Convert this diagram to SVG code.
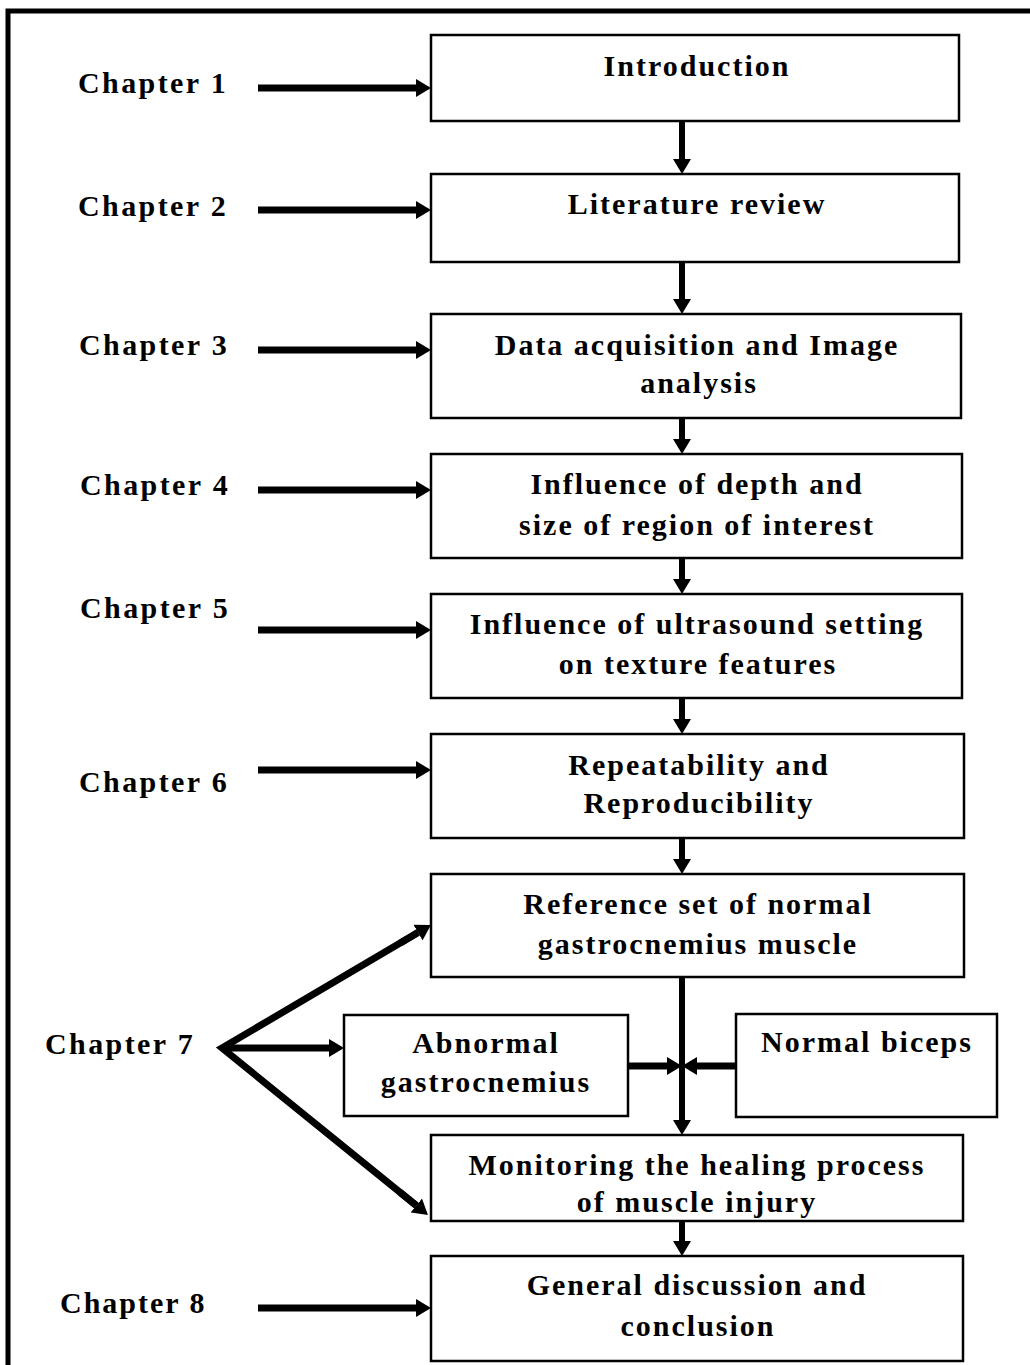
<svg xmlns="http://www.w3.org/2000/svg" width="1030" height="1365" viewBox="0 0 1030 1365">
<defs>
<style>
.box{fill:#fff;stroke:#000;stroke-width:2.5}
.t{font-family:"Liberation Serif","Times New Roman",serif;font-weight:bold;font-size:30px;letter-spacing:2px;fill:#000}
.c{text-anchor:middle}
.ln{stroke:#000;stroke-width:7;fill:none}
.v{stroke:#000;stroke-width:6;fill:none}
</style>
<marker id="ah" viewBox="0 0 15 18" refX="0" refY="9" markerWidth="15" markerHeight="18" markerUnits="userSpaceOnUse" orient="auto"><path d="M0,0 L15,9 L0,18 Z" fill="#000"/></marker>
</defs>
<rect x="0" y="0" width="1030" height="1365" fill="#fff"/>
<path d="M8,1365 V11 H1030" fill="none" stroke="#000" stroke-width="5"/>

<g id="labels">
<text class="t" x="78" y="93" style="letter-spacing:2.4px">Chapter 1</text>
<text class="t" x="78" y="216" style="letter-spacing:2.4px">Chapter 2</text>
<text class="t" x="79" y="355" style="letter-spacing:2.4px">Chapter 3</text>
<text class="t" x="80" y="495" style="letter-spacing:2.4px">Chapter 4</text>
<text class="t" x="80" y="618" style="letter-spacing:2.4px">Chapter 5</text>
<text class="t" x="79" y="792" style="letter-spacing:2.4px">Chapter 6</text>
<text class="t" x="45" y="1054" style="letter-spacing:2.4px">Chapter 7</text>
<text class="t" x="60" y="1313">Chapter 8</text>
</g>

<g id="n1"><rect class="box" x="431" y="35" width="528" height="86"/><text class="t c" x="697" y="76">Introduction</text></g>
<g id="n2"><rect class="box" x="431" y="174" width="528" height="88"/><text class="t c" x="697" y="214">Literature review</text></g>
<g id="n3"><rect class="box" x="431" y="314" width="530" height="104"/><text class="t c" x="697" y="355">Data acquisition and Image</text><text class="t c" x="699" y="393">analysis</text></g>
<g id="n4"><rect class="box" x="431" y="454" width="531" height="104"/><text class="t c" x="697" y="494">Influence of depth and</text><text class="t c" x="697" y="535">size of region of interest</text></g>
<g id="n5"><rect class="box" x="431" y="594" width="531" height="104"/><text class="t c" x="697" y="634">Influence of ultrasound setting</text><text class="t c" x="698" y="674">on texture features</text></g>
<g id="n6"><rect class="box" x="431" y="734" width="533" height="104"/><text class="t c" x="699" y="775">Repeatability and</text><text class="t c" x="699" y="813">Reproducibility</text></g>
<g id="n7"><rect class="box" x="431" y="874" width="533" height="103"/><text class="t c" x="698" y="914">Reference set of normal</text><text class="t c" x="698" y="954">gastrocnemius muscle</text></g>
<g id="n8"><rect class="box" x="344" y="1015" width="284" height="101"/><text class="t c" x="486" y="1053">Abnormal</text><text class="t c" x="486" y="1092">gastrocnemius</text></g>
<g id="n9"><rect class="box" x="736" y="1014" width="261" height="103"/><text class="t c" x="867" y="1052">Normal biceps</text></g>
<g id="n10"><rect class="box" x="431" y="1135" width="532" height="86"/><text class="t c" x="697" y="1175">Monitoring the healing process</text><text class="t c" x="697" y="1212">of muscle injury</text></g>
<g id="n11"><rect class="box" x="431" y="1256" width="532" height="105"/><text class="t c" x="697" y="1295">General discussion and</text><text class="t c" x="698" y="1336">conclusion</text></g>

<g id="connectors">
<line class="ln" x1="258" y1="88" x2="416" y2="88" marker-end="url(#ah)"/>
<line class="ln" x1="258" y1="210" x2="416" y2="210" marker-end="url(#ah)"/>
<line class="ln" x1="258" y1="350" x2="416" y2="350" marker-end="url(#ah)"/>
<line class="ln" x1="258" y1="490" x2="416" y2="490" marker-end="url(#ah)"/>
<line class="ln" x1="258" y1="630" x2="416" y2="630" marker-end="url(#ah)"/>
<line class="ln" x1="258" y1="770" x2="416" y2="770" marker-end="url(#ah)"/>
<line class="ln" x1="258" y1="1308" x2="416" y2="1308" marker-end="url(#ah)"/>
<line class="v" x1="682" y1="121" x2="682" y2="159" marker-end="url(#ah)"/>
<line class="v" x1="682" y1="262" x2="682" y2="299" marker-end="url(#ah)"/>
<line class="v" x1="682" y1="418" x2="682" y2="439" marker-end="url(#ah)"/>
<line class="v" x1="682" y1="558" x2="682" y2="579" marker-end="url(#ah)"/>
<line class="v" x1="682" y1="698" x2="682" y2="719" marker-end="url(#ah)"/>
<line class="v" x1="682" y1="838" x2="682" y2="859" marker-end="url(#ah)"/>
<line class="v" x1="682" y1="977" x2="682" y2="1120" marker-end="url(#ah)"/>
<line class="v" x1="682" y1="1221" x2="682" y2="1241" marker-end="url(#ah)"/>
<line class="ln" x1="628" y1="1066" x2="667" y2="1066" marker-end="url(#ah)"/>
<line class="ln" x1="736" y1="1066" x2="697" y2="1066" marker-end="url(#ah)"/>
<path class="ln" d="M418,932.6 L222,1048 L416.3,1205.5" stroke-linejoin="miter"/>
<line class="ln" x1="400" y1="943.2" x2="418" y2="932.6" marker-end="url(#ah)"/>
<line class="ln" x1="222" y1="1048" x2="329" y2="1048" marker-end="url(#ah)"/>
<line class="ln" x1="400" y1="1192.3" x2="416.3" y2="1205.5" marker-end="url(#ah)"/>
</g>
</svg>
